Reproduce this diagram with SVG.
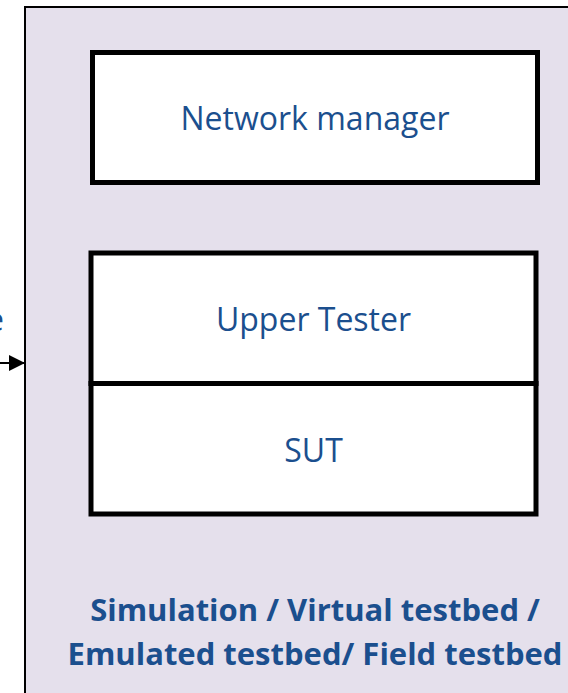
<svg xmlns="http://www.w3.org/2000/svg" width="568" height="693" viewBox="0 0 568 693">
  <style>
    .frame { fill: #E5E0EC; stroke: #000; stroke-width: 2; }
    .box { fill: #FFFFFF; stroke: #000; stroke-width: 5; }
    .label { font-family: "Open Sans", "Liberation Sans", sans-serif; font-size: 32px; fill: #1B4F8E; text-anchor: middle; }
    .caption { font-family: "Open Sans", "Liberation Sans", sans-serif; font-size: 31px; font-weight: 700; fill: #1B4F8E; text-anchor: middle; }
    .wire { stroke: #000; stroke-width: 2; fill: none; }
  </style>
  <defs>
    <marker id="arrow" viewBox="0 0 16 16" refX="16" refY="8" markerWidth="16" markerHeight="16" markerUnits="userSpaceOnUse" orient="auto">
      <path d="M0,0 L16,8 L0,16 Z" fill="#000"/>
    </marker>
  </defs>

  <!-- testbed environment -->
  <g id="testbed">
    <rect class="frame" x="25" y="7" width="560" height="700"/>
    <text class="caption" x="315" y="621">Simulation / Virtual testbed /</text>
    <text class="caption" x="315" y="665">Emulated testbed/ Field testbed</text>
  </g>

  <g id="network-manager">
    <rect class="box" x="92.5" y="52.5" width="445" height="130"/>
    <text class="label" x="315" y="130">Network manager</text>
  </g>

  <g id="upper-tester">
    <rect class="box" x="91" y="253" width="445" height="130.5"/>
    <text class="label" x="313.5" y="331">Upper Tester</text>
  </g>

  <g id="sut">
    <rect class="box" x="91" y="383.5" width="445" height="130.5"/>
    <text class="label" x="313.5" y="462">SUT</text>
  </g>

  <!-- incoming interface -->
  <g id="interface-label">
    <text class="label" x="4" y="331" style="text-anchor:end">e</text>
  </g>

  <g id="connectors">
    <line class="wire" x1="-5" y1="363" x2="25" y2="363" marker-end="url(#arrow)"/>
  </g>
</svg>
